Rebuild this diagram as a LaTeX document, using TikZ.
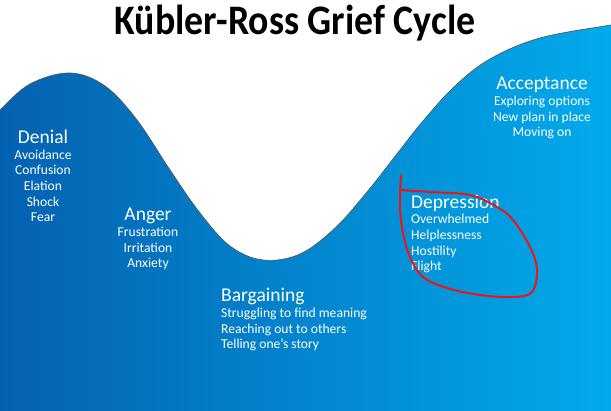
\documentclass[tikz,border=0pt]{standalone}
\usepackage{fontspec}
\setmainfont{Carlito}
\usepackage{xcolor}
\usetikzlibrary{positioning}

\definecolor{griefDark}{RGB}{4,96,176}
\definecolor{griefLight}{RGB}{2,172,236}
\definecolor{penRed}{RGB}{236,20,20}

\tikzset{
  stage/.style={text=white, inner sep=0pt, anchor=base,
    font=\fontsize{13.6}{15.7}\selectfont},
}
\newcommand{\stagehead}[1]{{\fontsize{19.5}{15.7}\selectfont #1}}

\begin{document}
\begin{tikzpicture}[x=1pt, y=-1pt]
    \useasboundingbox (0,0) rectangle (611,411);

    % Wave
    \begin{scope}
    \clip (0,0) rectangle (611,411);
    \shade[left color=griefDark, right color=griefLight]
        plot[smooth, tension=0.6] coordinates {(-8,118) (0,110) (30,84) (70,73) (105,86) (137,120) (170,170)
        (200,213) (230,246) (263,260) (300,254) (335,228) (367,192) (400,150) (423,121) (455,86) (490,59)
        (540,38) (611,25) (620,24)}
        -- (620,420) -- (-8,420) -- cycle;
    \draw[black!65, line width=0.7pt]
        plot[smooth, tension=0.6] coordinates {(-8,118) (0,110) (30,84) (70,73) (105,86) (137,120) (170,170)
        (200,213) (230,246) (263,260) (300,254) (335,228) (367,192) (400,150) (423,121) (455,86) (490,59)
        (540,38) (611,25) (620,24)};
    \end{scope}

    % Title
    \node[anchor=base, inner sep=0pt, font=\bfseries\fontsize{42}{42}\selectfont, xscale=0.9] (title) at (295,35)
        {Kübler-Ross Grief Cycle};

    % Stages (placed at the baseline of their last line)
    \node[stage, align=center] (denial) at (43,222)
        {\stagehead{Denial}\\Avoidance\\Confusion\\Elation\\Shock\\Fear};
    \node[stage, align=center] (anger) at (148,268)
        {\stagehead{Anger}\\Frustration\\Irritation\\Anxiety};
    \node[stage, align=left, anchor=base west] (bargaining) at (221,349)
        {\stagehead{Bargaining}\\Struggling to find meaning\\Reaching out to others\\Telling one’s story};
    \node[stage, align=left, anchor=base west] (depression) at (411,271)
        {\stagehead{Depression}\\Overwhelmed\\Helplessness\\Hostility\\Flight};
    \node[stage, align=center] (acceptance) at (542,137)
        {\stagehead{Acceptance}\\Exploring options\\New plan in place\\Moving on};

    % Red loop
    \draw[penRed, line width=2pt, line cap=round, line join=round]
        plot[smooth, tension=0.6] coordinates {(401,175) (400,207) (403,233) (410,257) (423,277) (447,288)
        (480,295) (513,297) (532,292) (537,270) (530,247) (513,220) (497,207) (470,195) (430,192) (400,190)};
\end{tikzpicture}
\end{document}
